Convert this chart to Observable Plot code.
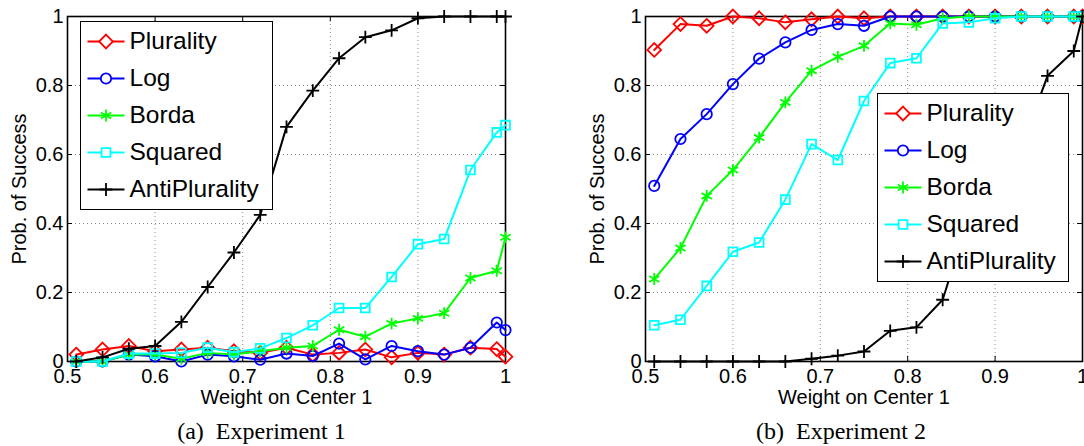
<!DOCTYPE html>
<html><head><meta charset="utf-8">
<script src="https://cdn.jsdelivr.net/npm/d3@7"></script>
<script src="https://cdn.jsdelivr.net/npm/@observablehq/plot@0.6"></script>
<style>
body{margin:0;background:#fff;}
#wrap{position:relative;width:1084px;height:446px;overflow:hidden;font-family:"Liberation Sans",Arial,sans-serif;background:#fff;}
.panel{position:absolute;top:0;}
.legend{position:absolute;background:#fff;border:1.5px solid #000;box-sizing:border-box;}
.row{position:absolute;left:0;height:37px;display:flex;align-items:center;font-size:24.5px;color:#000;white-space:nowrap;}
.row svg{display:block;}
.caption{position:absolute;width:300px;text-align:center;font-family:"Liberation Serif","Times New Roman",serif;font-size:24px;line-height:25px;white-space:pre;color:#000;}
</style></head>
<body><div id="wrap"></div>
<script>
// ---- data ----
const weights = [0.51,0.54,0.57,0.60,0.63,0.66,0.69,0.72,0.75,0.78,0.81,0.84,0.87,0.90,0.93,0.96,0.99,1.00];
const seriesNames = ["Plurality","Log","Borda","Squared","AntiPlurality"];
const seriesColors = ["#ff0000","#0000ff","#00ff00","#00ffff","#000000"];
const seriesSymbols = ["diamond2","circle","asterisk","square","plus"];

const exp1Plurality     = [0.02,0.035,0.045,0.03,0.035,0.04,0.03,0.025,0.04,0.02,0.025,0.035,0.012,0.025,0.02,0.04,0.036,0.014];
const exp1Log           = [0,0,0.02,0.015,0.0,0.02,0.015,0.005,0.023,0.016,0.052,0.006,0.045,0.03,0.02,0.04,0.113,0.091];
const exp1Borda         = [0,0,0.02,0.02,0.008,0.025,0.02,0.03,0.04,0.045,0.092,0.072,0.11,0.125,0.14,0.242,0.263,0.36];
const exp1Squared       = [0,0,0.023,0.023,0.025,0.04,0.027,0.038,0.068,0.105,0.155,0.155,0.245,0.34,0.355,0.555,0.664,0.685];
const exp1AntiPlurality = [0,0.012,0.037,0.045,0.115,0.216,0.316,0.425,0.68,0.785,0.879,0.94,0.96,0.995,1,1,1,1];

const exp2Plurality     = [0.903,0.978,0.973,1,0.995,0.983,0.992,1,0.995,1,1,1,1,1,1,1,1,1];
const exp2Log           = [0.509,0.645,0.717,0.804,0.878,0.925,0.961,0.978,0.973,1,1,1,1,1,1,1,1,1];
const exp2Borda         = [0.239,0.329,0.48,0.555,0.649,0.751,0.843,0.883,0.915,0.98,0.976,0.995,1,1,1,1,1,1];
const exp2Squared       = [0.105,0.121,0.219,0.318,0.345,0.469,0.63,0.584,0.755,0.865,0.879,0.98,0.983,0.995,1,1,1,1];
const exp2AntiPlurality = [0,0,0,0,0,0,0.008,0.017,0.029,0.089,0.099,0.179,0.42,0.52,0.62,0.828,0.90,1.0];

const xTicks = [0.5,0.6,0.7,0.8,0.9,1];
const xTickLabels = ["0.5","0.6","0.7","0.8","0.9","1"];
const yTicks = [0,0.2,0.4,0.6,0.8,1];
const yTickLabels = ["0","0.2","0.4","0.6","0.8","1"];
const xLabel = "Weight on Center 1";
const yLabel = "Prob. of Success";
const captions = ["(a)  Experiment 1","(b)  Experiment 2"];

// ---- build ----
const sizeR = {diamond2:6.2, circle:5.2, asterisk:5.6, square:5, plus:4.2};
const d3Sym = {diamond2:d3.symbolDiamond2, circle:d3.symbolCircle, asterisk:d3.symbolAsterisk, square:d3.symbolSquare, plus:d3.symbolPlus};

function rows(arrs){
  const out=[];
  arrs.forEach((a,si)=>a.forEach((v,i)=>out.push({w:weights[i], v, s:seriesNames[si]})));
  return out;
}
const data1 = rows([exp1Plurality,exp1Log,exp1Borda,exp1Squared,exp1AntiPlurality]);
const data2 = rows([exp2Plurality,exp2Log,exp2Borda,exp2Squared,exp2AntiPlurality]);

function panel(data, marginLeft, marginRight){
  const seriesMarks = [];
  seriesNames.forEach((name,i)=>{
    const d = data.filter(r=>r.s===name);
    seriesMarks.push(Plot.line(d,{x:"w",y:"v",stroke:seriesColors[i],strokeWidth:2}));
    seriesMarks.push(Plot.dot(d,{x:"w",y:"v",symbol:seriesSymbols[i],r:sizeR[seriesSymbols[i]],stroke:seriesColors[i],fill:"none",strokeWidth:1.8}));
  });
  return Plot.plot({
    width: 542, height: 410,
    marginLeft, marginRight, marginTop: 16, marginBottom: 49,
    style: {fontFamily:'"Liberation Sans",Arial,sans-serif', fontSize:"20px", background:"transparent", overflow:"visible", color:"#000"},
    x: {domain:[0.5,1]},
    y: {domain:[0,1]},
    marks: [
      Plot.gridX(xTicks.slice(1,-1),{stroke:"#888",strokeOpacity:1,strokeDasharray:"1,3"}),
      Plot.gridY(yTicks.slice(1,-1),{stroke:"#888",strokeOpacity:1,strokeDasharray:"1,3"}),
      Plot.ruleX(xTicks,{y1:0,y2:0.015,stroke:"#000"}),
      Plot.ruleX(xTicks,{y1:1,y2:0.985,stroke:"#000"}),
      Plot.ruleY(yTicks,{x1:0.5,x2:0.5057,stroke:"#000"}),
      Plot.ruleY(yTicks,{x1:1,x2:0.9943,stroke:"#000"}),
      Plot.frame({stroke:"#000",strokeWidth:1.6}),
      Plot.axisX(xTicks,{tickSize:0,tickPadding:7,fontSize:20,tickFormat:d=>xTickLabels[xTicks.indexOf(d)],label:xLabel,labelAnchor:"center",labelOffset:42,labelArrow:"none"}),
      Plot.axisY(yTicks,{tickSize:0,tickPadding:4,fontSize:20,tickFormat:d=>yTickLabels[yTicks.indexOf(d)],label:yLabel,labelAnchor:"center",labelOffset:56,labelArrow:"none"}),
      ...seriesMarks
    ]
  });
}

const wrap = document.getElementById("wrap");
const p1 = panel(data1, 67, 37);
p1.classList.add("panel"); p1.style.left="0px";
const p2 = panel(data2, 103, 2);
p2.classList.add("panel"); p2.style.left="542px";
wrap.appendChild(p1); wrap.appendChild(p2);

function legend(left, top, w, h){
  const div = document.createElement("div");
  div.className="legend";
  Object.assign(div.style,{left:left+"px",top:top+"px",width:w+"px",height:h+"px"});
  seriesNames.forEach((name,i)=>{
    const row = document.createElement("div");
    row.className="row";
    row.style.top = (0.7 + 37*i)+"px";
    const svg = d3.create("svg").attr("width",48.5).attr("height",37);
    svg.append("line").attr("x1",6.5).attr("x2",43.5).attr("y1",18.5).attr("y2",18.5).attr("stroke",seriesColors[i]).attr("stroke-width",2);
    const r = sizeR[seriesSymbols[i]];
    svg.append("path").attr("transform","translate(25,18.5)")
      .attr("d",d3.symbol(d3Sym[seriesSymbols[i]], Math.PI*r*r)())
      .attr("fill", "#fff").attr("stroke",seriesColors[i]).attr("stroke-width",1.8);
    row.appendChild(svg.node());
    const t = document.createElement("span"); t.textContent=name;
    row.appendChild(t);
    div.appendChild(row);
  });
  wrap.appendChild(div);
}
legend(80,21,193,189);
legend(877,93,192,189);

[[261.5,captions[0]],[841,captions[1]]].forEach(([cx,txt])=>{
  const c=document.createElement("div"); c.className="caption";
  c.style.left=(cx-150)+"px"; c.style.top="419px"; c.textContent=txt;
  wrap.appendChild(c);
});
</script>
</body></html>
